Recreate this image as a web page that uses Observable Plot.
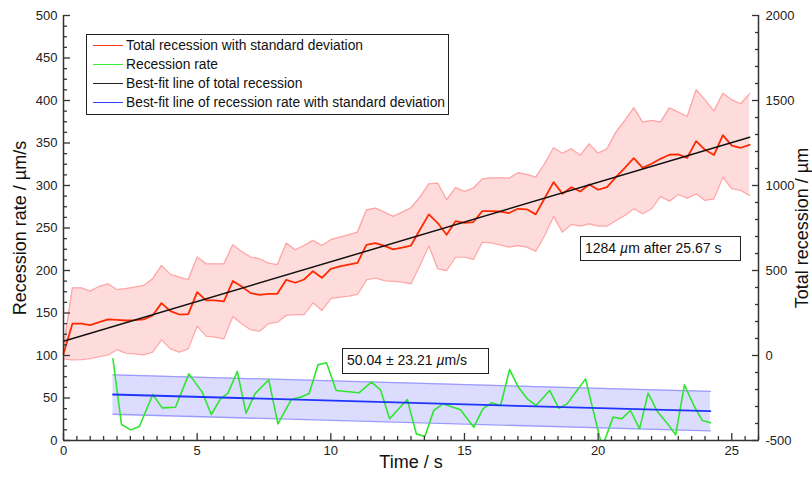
<!DOCTYPE html>
<html><head><meta charset="utf-8">
<script src="https://cdn.jsdelivr.net/npm/d3@7"></script>
<script src="https://cdn.jsdelivr.net/npm/@observablehq/plot@0.6"></script>
<style>
body{margin:0;background:#fff;font-family:"Liberation Sans",Arial,Helvetica,sans-serif;}
#wrap{position:relative;width:812px;height:479px;overflow:hidden;}
#wrap svg{position:absolute;left:0;top:0;}
.box{position:absolute;border:1.5px solid #222;background:#fff;color:#111;font-size:13.8px;box-sizing:border-box;white-space:nowrap;}
.row{position:absolute;left:0;height:19px;line-height:19px;}
.sw{position:absolute;left:6px;top:9px;width:30px;height:0;border-top:1.6px solid;}
.lab{position:absolute;left:39px;top:0;}
</style></head><body><div id="wrap"></div>
<script>
// ---- data ----
const frameInterval = 1 / 3; // s between frames (total recession samples)
const totalRecession = [10,187,187,179,196,212,210,206,208,212,
  235,308,261,241,243,373,324,324,318,438,
  406,367,357,363,363,445,428,447,496,457,
  510,524,535,545,651,661,645,624,635,647,
  740,830,779,710,790,780,785,849,849,847,
  838,863,860,830,925,1020,951,990,965,1006,
  975,990,1049,1104,1161,1104,1128,1157,1181,1183,
  1163,1261,1210,1179,1296,1235,1222,1239]; // µm
const totalUpper = [50,398,398,379,406,422,387,394,402,412,
  451,530,477,461,447,579,539,539,539,651,
  612,579,569,543,534,661,622,647,677,647,
  681,696,710,726,857,867,843,818,843,869,
  932,1010,1014,916,987,965,985,1039,1045,1045,
  1043,1075,1065,1049,1128,1222,1190,1216,1177,1245,
  1190,1216,1314,1383,1457,1373,1383,1373,1457,1432,
  1406,1563,1504,1438,1543,1504,1481,1539]; // µm (+SD)
const totalLower = [-20,-26,-24,-18,-6,4,34,14,10,4,
  20,92,39,20,39,173,114,108,98,230,
  187,151,143,187,196,236,241,241,310,265,
  334,343,349,359,445,457,441,436,432,422,
  530,645,510,500,579,579,565,667,663,651,
  638,647,638,614,706,818,726,771,761,775,
  761,761,794,824,863,834,863,936,908,947,
  926,951,912,922,1049,981,971,941]; // µm (-SD)
const rateTime = [1.85,2.17,2.51,2.84,3.34,3.69,4.19,4.69,5.19,5.53,5.87,6.16,6.50,6.83,7.16,7.68,8.02,8.52,8.87,9.19,
  9.52,9.84,10.20,11.05,11.52,11.86,12.20,12.86,13.20,13.52,13.85,14.19,14.85,15.35,15.69,16.01,16.35,16.69,17.03,17.35,
  17.68,18.19,18.53,18.84,19.19,19.53,20.15,20.56,20.88,21.21,21.55,21.87,22.21,22.55,22.90,23.23,23.58,23.90,24.20];
const rateValue = [96.1,18.8,12.5,16.5,54.1,38.4,39.2,78.4,56.9,30.6,49,56.1,81.2,32.2,54.9,71.4,19.6,48.2,51,55.3,
  89,91.4,58.8,56.1,68.6,59.6,25.5,48.2,7.8,4.7,35.3,43.1,36.1,15.7,37.3,44.3,41.2,83.5,62,49,
  41.2,58.8,38,43.1,58,72.5,-8,27.5,25.5,35.3,13.7,55.7,34.5,21.6,6.7,65.5,41.2,23.5,20.8]; // µm/s
const fitTotalTime = [0, 25.67];
const fitTotalValue = [84, 1284]; // µm
const fitRateTime = [1.85, 24.2];
const fitRateValue = [54.1, 34.5]; // µm/s
const rateMean = "50.04";
const fitRateSD = 23.21;
const xTicks = [0, 5, 10, 15, 20, 25];
const leftTicks = [0, 50, 100, 150, 200, 250, 300, 350, 400, 450, 500];
const rightTicks = [-500, 0, 500, 1000, 1500, 2000];

// ---- derived tables ----
const toLeft = r => (r + 500) / 5;   // right axis (µm) -> left axis units
const totalData = totalRecession.map((r, i) => ({t: i * frameInterval, r, hi: totalUpper[i], lo: totalLower[i]}));
const rateData = rateTime.map((t, i) => ({t, v: rateValue[i]}));
const fitTotal = fitTotalTime.map((t, i) => ({t, v: toLeft(fitTotalValue[i])}));
const fitRate = fitRateTime.map((t, i) => ({t, v: fitRateValue[i], hi: fitRateValue[i] + fitRateSD, lo: fitRateValue[i] - fitRateSD}));

const xMinor = d3.range(0, 26.01, 0.5).filter(d => d % 5 !== 0);
const leftMinor = d3.range(0, 500.1, 12.5).filter(d => d % 50 !== 0);
const rightMinor = d3.range(-500, 2000.1, 100).filter(d => d % 500 !== 0).map(toLeft);
const rightPos = rightTicks.map(toLeft);

const axisColor = "#333";
const tickOnly = (size) => ({tickSize: size, fill: "none", stroke: axisColor, strokeWidth: 1.3, label: null});
const chart = Plot.plot({
  width: 812, height: 479,
  marginLeft: 63, marginRight: 54, marginTop: 15, marginBottom: 39,
  x: {domain: [0, 26]},
  y: {domain: [0, 500]},
  style: {fontFamily: "'Liberation Sans', Arial, Helvetica, sans-serif", fontSize: "13px", color: "#222", background: "transparent"},
  marks: [
    // red band
    Plot.areaY(totalData, {x: "t", y1: d => toLeft(d.lo), y2: d => toLeft(d.hi), fill: "#ffdcdc"}),
    Plot.lineY(totalData, {x: "t", y: d => toLeft(d.hi), stroke: "#ffa6a6", strokeWidth: 1.3}),
    Plot.lineY(totalData, {x: "t", y: d => toLeft(d.lo), stroke: "#ffa6a6", strokeWidth: 1.3}),
    // blue band
    Plot.areaY(fitRate, {x: "t", y1: "lo", y2: "hi", fill: "#dcdcff"}),
    Plot.lineY(fitRate, {x: "t", y: "hi", stroke: "#9a9aff", strokeWidth: 1.3}),
    Plot.lineY(fitRate, {x: "t", y: "lo", stroke: "#9a9aff", strokeWidth: 1.3}),
    // green
    Plot.lineY(rateData, {x: "t", y: "v", stroke: "#2ee62e", strokeWidth: 1.6, clip: true}),
    // blue fit
    Plot.lineY(fitRate, {x: "t", y: "v", stroke: "#1f35ff", strokeWidth: 1.8}),
    // red total
    Plot.lineY(totalData, {x: "t", y: d => toLeft(d.r), stroke: "#ff2a00", strokeWidth: 1.8}),
    // black fit
    Plot.lineY(fitTotal, {x: "t", y: "v", stroke: "#111", strokeWidth: 1.5}),
    // axis lines
    Plot.ruleX([0, 26], {stroke: axisColor, strokeWidth: 1.5}),
    Plot.ruleY([0], {stroke: axisColor, strokeWidth: 1.5}),
    // x axis
    Plot.axisX(xTicks, {anchor: "bottom", ...tickOnly(-7)}),
    Plot.axisX(xMinor, {anchor: "bottom", ...tickOnly(-4)}),
    Plot.axisX(xTicks, {anchor: "bottom", tickSize: 0, tickPadding: 5, fill: "#222", label: null}),
    // left axis
    Plot.axisY(leftTicks, {anchor: "left", ...tickOnly(-7)}),
    Plot.axisY(leftMinor, {anchor: "left", ...tickOnly(-4)}),
    Plot.axisY(leftTicks, {anchor: "left", tickSize: 0, tickPadding: 6, fill: "#222", label: null}),
    // right axis
    Plot.axisY(rightPos, {anchor: "right", ...tickOnly(-7)}),
    Plot.axisY(rightMinor, {anchor: "right", ...tickOnly(-4)}),
    Plot.axisY(rightPos, {anchor: "right", tickSize: 0, tickPadding: 7, fill: "#222", label: null, tickFormat: d => String(Math.round(d * 5 - 500))}),
    // axis titles
    Plot.text(["Time / s"], {frameAnchor: "bottom", dy: 27, fontSize: 18, fill: "#111"}),
    Plot.text(["Recession rate / µm/s"], {frameAnchor: "left", dx: -43, rotate: -90, textAnchor: "middle", fontSize: 18, fill: "#111"}),
    Plot.text(["Total recession / µm"], {frameAnchor: "right", dx: 44, rotate: -90, textAnchor: "middle", fontSize: 18, fill: "#111"})
  ]
});
const wrap = document.getElementById("wrap");
wrap.appendChild(chart);

// legend
const legendItems = [
  {label: "Total recession with standard deviation", color: "#ff3a1a"},
  {label: "Recession rate", color: "#33ee33"},
  {label: "Best-fit line of total recession", color: "#222"},
  {label: "Best-fit line of recession rate with standard deviation", color: "#3344ff"}
];
const lg = document.createElement("div");
lg.className = "box";
Object.assign(lg.style, {left: "86px", top: "34px", width: "363px", height: "81px"});
legendItems.forEach((d, i) => {
  const row = document.createElement("div");
  row.className = "row";
  row.style.top = (0.5 + i * 19) + "px";
  row.innerHTML = `<span class="sw" style="border-color:${d.color}"></span><span class="lab">${d.label}</span>`;
  lg.appendChild(row);
});
wrap.appendChild(lg);

// annotations
function note(html, left, top, w, h) {
  const b = document.createElement("div");
  b.className = "box";
  Object.assign(b.style, {left: left + "px", top: top + "px", width: w + "px", height: h + "px", lineHeight: (h - 3) + "px", paddingLeft: "4px", fontSize: "14px"});
  b.innerHTML = html;
  wrap.appendChild(b);
}
note(`${fitTotalValue[1]} <i>µ</i>m after ${fitTotalTime[1]} s`, 580, 236, 161, 25);
note(`${rateMean} ± ${fitRateSD} <i>µ</i>m/s`, 342, 348, 147, 26);
</script></body></html>
